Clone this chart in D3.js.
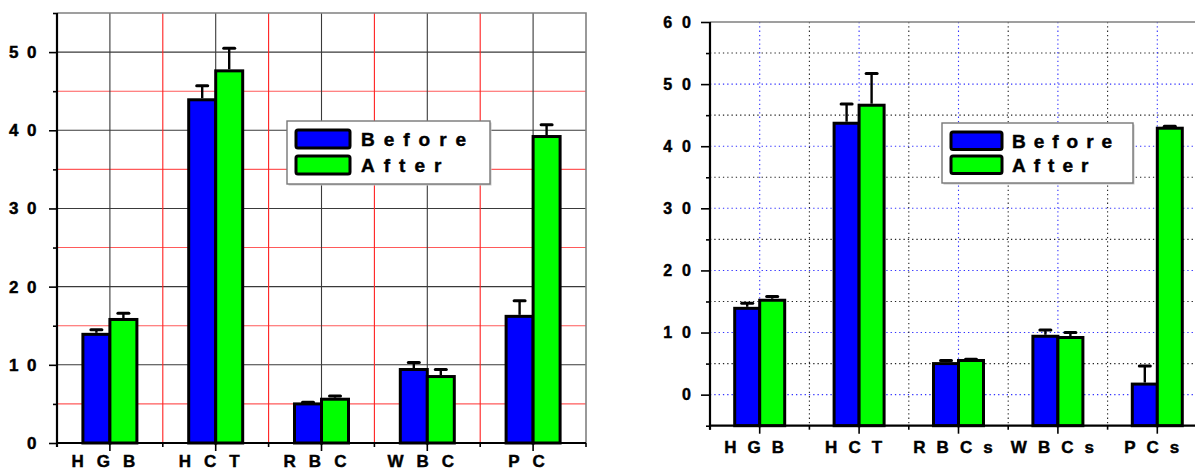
<!DOCTYPE html>
<html>
<head>
<meta charset="utf-8">
<script src="https://cdn.jsdelivr.net/npm/d3@7/dist/d3.min.js"></script>
<style>
  html, body { margin: 0; padding: 0; background: #fff; }
  svg { display: block; font-family: "Liberation Sans", Arial, sans-serif; font-weight: bold; }
  svg text { stroke: #000; stroke-width: 0.45px; }
</style>
</head>
<body>
<svg id="chart" width="1195" height="471"></svg>
<script>
// Blood parameters before and after treatment — two panels.
const seriesNames = ["Before", "After"];

// Panel A
const categoriesA = ["HGB", "HCT", "RBC", "WBC", "PC"];
const beforeA    = [13.9, 43.9, 5.0, 9.4, 16.2];
const beforeErrA = [0.6, 1.8, 0.2, 0.9, 2.0];
const afterA     = [15.8, 47.6, 5.6, 8.5, 39.2];
const afterErrA  = [0.8, 2.9, 0.4, 0.9, 1.5];
const majorTicksA = [0, 10, 20, 30, 40, 50];
const minorTicksA = [5, 15, 25, 35, 45, 55];

// Panel B
const categoriesB = ["HGB", "HCT", "RBCs", "WBCs", "PCs"];
const beforeB    = [13.9, 43.7, 5.0, 9.4, 1.7];
const beforeErrB = [0.8, 3.1, 0.5, 1.0, 2.9];
const afterB     = [15.2, 46.6, 5.5, 9.2, 42.9];
const afterErrB  = [0.6, 5.1, 0.2, 0.8, 0.3];
const majorTicksB = [0, 10, 20, 30, 40, 50, 60];
const minorTicksB = [-5, 5, 15, 25, 35, 45, 55];

const colors = ["#0000ff", "#00ff00"];
const svg = d3.select("#chart");

function drawPanel(p) {
  const g = svg.append("g");
  const x = d3.scaleBand().domain(p.categories).range([p.left, p.right]);
  const y = d3.scaleLinear().domain(p.domain).range([p.bottom, p.top]);
  const bw = x.bandwidth();
  const centers = p.categories.map(c => x(c) + bw / 2);
  const bounds = p.categories.map(c => x(c)).concat([x(p.categories[p.categories.length - 1]) + bw]);

  // grid
  const grid = g.append("g");
  grid.selectAll(".hmin").data(p.minor.filter(v => v > p.domain[0] && v < p.domain[1])).join("line")
    .attr("x1", p.left).attr("x2", p.right).attr("y1", d => y(d)).attr("y2", d => y(d))
    .attr("stroke", p.grid.hMinor).attr("stroke-width", p.grid.w).attr("stroke-dasharray", p.grid.dash);
  grid.selectAll(".hmaj").data(p.major.filter(v => v < p.domain[1])).join("line")
    .attr("x1", p.left).attr("x2", p.right).attr("y1", d => y(d)).attr("y2", d => y(d))
    .attr("stroke", p.grid.hMajor).attr("stroke-width", p.grid.w).attr("stroke-dasharray", p.grid.dash);
  grid.selectAll(".vb").data(bounds.slice(1, -1)).join("line")
    .attr("x1", d => d).attr("x2", d => d).attr("y1", p.top).attr("y2", p.bottom)
    .attr("stroke", p.grid.vBound).attr("stroke-width", p.grid.w).attr("stroke-dasharray", p.grid.dash);
  grid.selectAll(".vc").data(centers).join("line")
    .attr("x1", d => d).attr("x2", d => d).attr("y1", p.top).attr("y2", p.bottom)
    .attr("stroke", p.grid.vCenter).attr("stroke-width", p.grid.w).attr("stroke-dasharray", p.grid.dash);

  // frame (top and right)
  g.append("path")
    .attr("d", `M${p.left},${y(p.domain[1])}H${p.right}V${p.bottom}`)
    .attr("fill", "none").attr("stroke", "#808080").attr("stroke-width", 1.6);

  // bars
  const inner = d3.scaleBand().domain([0, 1]).range([0, p.barPair]);
  const base = y(p.baseline);
  const series = [p.before, p.after];
  const errs = [p.beforeErr, p.afterErr];
  series.forEach((vals, s) => {
    const bars = g.append("g");
    bars.selectAll("rect").data(vals).join("rect")
      .attr("x", (d, i) => centers[i] - p.barPair / 2 + inner(s))
      .attr("width", inner.bandwidth())
      .attr("y", d => y(d))
      .attr("height", d => base - y(d))
      .attr("fill", colors[s]).attr("stroke", "#000").attr("stroke-width", 3);
    const eb = g.append("g").attr("stroke", "#000");
    const cx = (i) => centers[i] - p.barPair / 2 + inner(s) + inner.bandwidth() / 2;
    eb.selectAll(".stem").data(vals).join("line")
      .attr("x1", (d, i) => cx(i)).attr("x2", (d, i) => cx(i))
      .attr("y1", d => y(d) - 1.5).attr("y2", (d, i) => y(d + errs[s][i]))
      .attr("stroke-width", 2.4);
    eb.selectAll(".cap").data(vals).join("line")
      .attr("x1", (d, i) => cx(i) - 5.5).attr("x2", (d, i) => cx(i) + 5.5)
      .attr("y1", (d, i) => y(d + errs[s][i])).attr("y2", (d, i) => y(d + errs[s][i]))
      .attr("stroke-width", 3).attr("stroke-linecap", "round");
  });

  // y axis
  const yMinor = d3.axisLeft(y).tickValues(p.minor).tickSize(4).tickFormat("");
  g.append("g").attr("transform", `translate(${p.left},0)`).call(yMinor)
    .call(a => a.select(".domain").remove())
    .selectAll("line").attr("stroke", "#000").attr("stroke-width", 1.6);
  const yMajor = d3.axisLeft(y).tickValues(p.major).tickSize(p.yMajorLen).tickPadding(p.yPad)
    .tickFormat(d3.format("d"));
  const ya = g.append("g").attr("transform", `translate(${p.left},0)`).call(yMajor)
    .attr("font-family", null).attr("font-size", null);
  ya.select(".domain").remove();
  ya.selectAll("line").attr("stroke", "#000").attr("stroke-width", 1.6);
  ya.selectAll("text").attr("font-size", p.yFont).attr("letter-spacing", p.yLs).attr("fill", "#000");

  // x ticks
  const xa = g.append("g");
  xa.selectAll(".tb").data(bounds).join("line")
    .attr("x1", d => d).attr("x2", d => d).attr("y1", p.bottom).attr("y2", p.bottom + 4)
    .attr("stroke", "#000").attr("stroke-width", 1.6);
  xa.selectAll(".tc").data(centers).join("line")
    .attr("x1", d => d).attr("x2", d => d).attr("y1", p.bottom).attr("y2", p.bottom + 8)
    .attr("stroke", "#000").attr("stroke-width", 1.6);
  xa.selectAll("text").data(p.categories).join("text")
    .attr("x", (d, i) => centers[i]).attr("y", p.xLabelY)
    .attr("text-anchor", "middle").attr("font-size", p.xFont).attr("letter-spacing", p.xLs)
    .text(d => d);

  // axis lines
  g.append("line").attr("x1", p.left).attr("x2", p.left).attr("y1", p.top).attr("y2", p.bottom + 4)
    .attr("stroke", "#000").attr("stroke-width", 2.2);
  g.append("line").attr("x1", p.left).attr("x2", p.right).attr("y1", p.bottom).attr("y2", p.bottom)
    .attr("stroke", "#000").attr("stroke-width", 2.2);

  // legend
  const L = p.legend;
  const lg = g.append("g");
  lg.append("rect").attr("x", L.x + 1.5).attr("y", L.y + 1.5).attr("width", L.w).attr("height", L.h)
    .attr("fill", "#c8c8c8");
  lg.append("rect").attr("x", L.x).attr("y", L.y).attr("width", L.w).attr("height", L.h)
    .attr("fill", "#fff").attr("stroke", "#777").attr("stroke-width", 1.4);
  seriesNames.forEach((name, s) => {
    const sy = L.y + L.padTop + s * L.row;
    lg.append("rect").attr("x", L.x + L.swX).attr("y", sy).attr("width", L.swW).attr("height", L.swH)
      .attr("rx", 2).attr("fill", colors[s]).attr("stroke", "#000").attr("stroke-width", 3);
    lg.append("text").attr("x", L.x + L.textX).attr("y", sy + L.swH - 2)
      .attr("font-size", L.font).attr("letter-spacing", L.ls).attr("fill", "#000").text(name);
  });
}

drawPanel({
  categories: categoriesA, before: beforeA, beforeErr: beforeErrA, after: afterA, afterErr: afterErrA,
  major: majorTicksA, minor: minorTicksA,
  domain: [0, 55], baseline: 0,
  left: 57, right: 586, top: 13, bottom: 443,
  barPair: 54,
  grid: { hMajor: "#3a3a3a", hMinor: "#ff5a5a", vBound: "#ff2020", vCenter: "#3a3a3a", w: 1.1, dash: null },
  yMajorLen: 8, yPad: 4, yFont: 17, yLs: 8.5,
  xFont: 17, xLs: 13, xLabelY: 467,
  legend: { x: 287, y: 121, w: 203, h: 63, padTop: 9, row: 26, swX: 9, swW: 54, swH: 18, textX: 74, font: 19, ls: 9 }
});

drawPanel({
  categories: categoriesB, before: beforeB, beforeErr: beforeErrB, after: afterB, afterErr: afterErrB,
  major: majorTicksB, minor: minorTicksB,
  domain: [-5, 60], baseline: -5,
  left: 710, right: 1207, top: 22, bottom: 425.7,
  barPair: 50,
  grid: { hMajor: "#3030ff", hMinor: "#222", vBound: "#222", vCenter: "#3030ff", w: 1.1, dash: "1.3,3" },
  yMajorLen: 9, yPad: 0, yFont: 16, yLs: 10,
  xFont: 17, xLs: 11, xLabelY: 453,
  legend: { x: 942, y: 123, w: 191, h: 60, padTop: 9, row: 24, swX: 9, swW: 51, swH: 17.5, textX: 70, font: 19, ls: 8 }
});
</script>
</body>
</html>
